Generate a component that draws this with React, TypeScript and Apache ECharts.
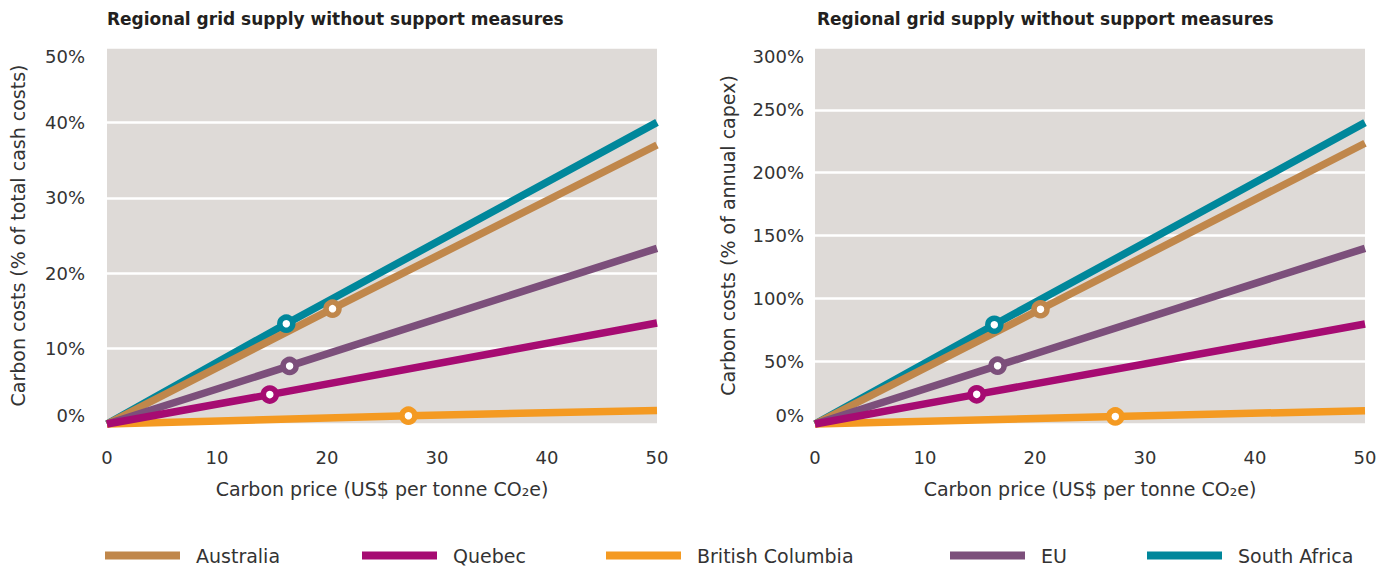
import React, { useEffect, useRef } from "react";
import * as echarts from "echarts";

// Regions (legend order) and colours
const regions = ["Australia", "Quebec", "British Columbia", "EU", "South Africa"];
const regionColors = ["#c0874b", "#a60b72", "#f49a22", "#7c4f7b", "#00879b"];

// Carbon price axis (US$ per tonne CO2e)
const priceStart = 0;
const priceEnd = 50;

// Left panel: carbon costs, % of total cash costs
const cashStartY = [0, 0, 0, 0, 0];
const cashMarkerX = [20.5, 14.8, 27.4, 16.6, 16.3];
const cashMarkerY = [15.3, 3.9, 1.1, 7.7, 13.3];
const cashEndY = [37.0, 13.4, 1.8, 23.3, 40.0];

// Right panel: carbon costs, % of annual capex
const capexStartY = [0, 0, 0, 0, 0];
const capexMarkerX = [20.5, 14.7, 27.3, 16.6, 16.3];
const capexMarkerY = [91.3, 23.6, 6, 46.4, 79.0];
const capexEndY = [223.4, 79.6, 10.6, 139.8, 239.8];

const panelTitle = "Regional grid supply without support measures";
const xAxisTitle = "Carbon price (US$ per tonne CO₂e)";
const leftYAxisTitle = "Carbon costs (% of total cash costs)";
const rightYAxisTitle = "Carbon costs (% of annual capex)";

// draw order (bottom to top)
const drawOrder = [4, 0, 3, 2, 1];
const legendLefts = [105, 362, 606, 950, 1147];

const FONT = "'DejaVu Sans', 'Open Sans', sans-serif";
const TEXT = "#333333";
const FS = 18;
const FS_NAME = 19;

function buildSeries(
  gridIdx: number,
  startY: number[],
  markerX: number[],
  markerY: number[],
  endY: number[]
) {
  return drawOrder.map((i) => ({
    type: "line",
    name: regions[i],
    xAxisIndex: gridIdx,
    yAxisIndex: gridIdx,
    color: regionColors[i],
    symbol: "none",
    clip: false,
    lineStyle: { width: 7.5, color: regionColors[i], cap: "butt" },
    itemStyle: { color: regionColors[i] },
    emphasis: { disabled: true },
    data: [
      [priceStart, startY[i]],
      {
        value: [markerX[i], markerY[i]],
        symbol: "circle",
        symbolSize: 13,
        itemStyle: { color: "#ffffff", borderColor: regionColors[i], borderWidth: 5.5 },
      },
      [priceEnd, endY[i]],
    ],
  }));
}

export default function App() {
  const ref = useRef<HTMLDivElement>(null);

  useEffect(() => {
    if (!ref.current) return;
    document.body.style.margin = "0";
    document.body.style.overflow = "hidden";
    const chart = echarts.init(ref.current, null, { renderer: "svg" });

    const xAxisBase = (gridIndex: number) => ({
      type: "value",
      gridIndex,
      min: 0,
      max: 50,
      interval: 10,
      name: xAxisTitle,
      nameLocation: "middle",
      nameGap: 55,
      nameTextStyle: { fontFamily: FONT, fontSize: FS_NAME, color: TEXT },
      axisLine: { show: false },
      axisTick: { show: false },
      splitLine: { show: false },
      axisLabel: { fontFamily: FONT, fontSize: FS, color: TEXT, margin: 24 },
    });

    const yAxisBase = (gridIndex: number, max: number, interval: number, name: string, margin: number) => ({
      type: "value",
      gridIndex,
      min: 0,
      max,
      interval,
      name,
      nameLocation: "middle",
      nameGap: gridIndex === 0 ? 80 : 78,
      nameTextStyle: { fontFamily: FONT, fontSize: FS_NAME, color: TEXT },
      axisLine: { show: false },
      axisTick: { show: false },
      splitLine: { show: true, lineStyle: { color: "#ffffff", width: 2.5 } },
      axisLabel: {
        fontFamily: FONT,
        fontSize: FS,
        color: TEXT,
        margin,
        formatter: (v: number) => `${v}%`,
        verticalAlignMaxLabel: "top",
        verticalAlignMinLabel: "bottom",
      },
    });

    const titleStyle = { fontFamily: FONT, fontSize: 17, fontWeight: "bold", color: "#231f20" };

    const option: any = {
      animation: false,
      backgroundColor: "#ffffff",
      title: [
        { text: panelTitle, left: 107, top: 10, padding: 0, textStyle: titleStyle },
        { text: panelTitle, left: 817, top: 10, padding: 0, textStyle: titleStyle },
      ],
      legend: regions.map((r, i) => ({
        data: [r],
        left: legendLefts[i],
        top: 546,
        padding: 0,
        icon: "rect",
        itemWidth: 75,
        itemHeight: 8,
        selectedMode: false,
        formatter: (name: string) => `{g|}${name}`,
        textStyle: {
          fontFamily: FONT,
          fontSize: FS_NAME,
          color: TEXT,
          rich: { g: { width: 11 } },
        },
      })),
      grid: [
        {
          left: 107,
          top: 47,
          width: 550,
          height: 377,
          show: true,
          backgroundColor: "#dedad7",
          borderWidth: 0,
        },
        {
          left: 815,
          top: 47,
          width: 550,
          height: 377,
          show: true,
          backgroundColor: "#dedad7",
          borderWidth: 0,
        },
      ],
      xAxis: [xAxisBase(0), xAxisBase(1)],
      yAxis: [
        yAxisBase(0, 50, 10, leftYAxisTitle, 22),
        yAxisBase(1, 300, 50, rightYAxisTitle, 11),
      ],
      series: [
        ...buildSeries(0, cashStartY, cashMarkerX, cashMarkerY, cashEndY),
        ...buildSeries(1, capexStartY, capexMarkerX, capexMarkerY, capexEndY),
      ],
    };

    chart.setOption(option);
    return () => chart.dispose();
  }, []);

  return (
    <div
      ref={ref}
      style={{ position: "absolute", left: 0, top: 0, width: 1391, height: 566 }}
    />
  );
}
